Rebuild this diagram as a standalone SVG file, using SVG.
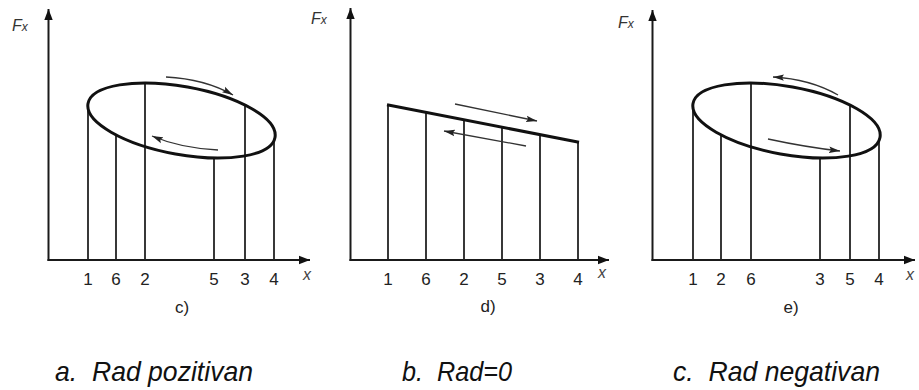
<svg xmlns="http://www.w3.org/2000/svg" width="919" height="390" viewBox="0 0 919 390">
<style>
.ax{stroke:#1a1a1a;stroke-width:2;fill:none}
.vl{stroke:#222;stroke-width:1.8;fill:none}
.el{stroke:#111;stroke-width:3;fill:none}
.ar{stroke:#333;stroke-width:1.3;fill:none}
.num{font-family:"Liberation Sans",Arial,sans-serif;font-size:17px;fill:#222;text-anchor:middle}
.lab{font-family:"Liberation Sans",Arial,sans-serif;font-size:17px;fill:#222;text-anchor:middle}
.xl{font-family:"Liberation Sans",Arial,sans-serif;font-size:16px;font-style:italic;fill:#444}
.F{font-family:"Liberation Sans",Arial,sans-serif;font-size:16px;font-style:italic;fill:#333}
.Fs{font-size:12px}
.cap{font-family:"Liberation Sans",Arial,sans-serif;font-size:28px;font-style:italic;fill:#111;white-space:pre}
</style>
<defs>
<marker id="ah" markerUnits="userSpaceOnUse" markerWidth="12" markerHeight="8" refX="11" refY="4" orient="auto">
<path d="M0,0.8 L11,4 L0,7.2 L2,4 Z" fill="#222"/>
</marker>
<marker id="axh" markerUnits="userSpaceOnUse" markerWidth="12" markerHeight="10" refX="11" refY="5" orient="auto">
<path d="M0,0.8 L11,5 L0,9.2 Z" fill="#111"/>
</marker>
</defs>

<g id="panel-c">
<line class="ax" x1="48.5" y1="261" x2="48.5" y2="9" marker-end="url(#axh)"/>
<line class="ax" x1="47.5" y1="260" x2="310" y2="260" marker-end="url(#axh)"/>
<line class="vl" x1="88" y1="260" x2="88" y2="106"/>
<line class="vl" x1="116" y1="260" x2="116" y2="135"/>
<line class="vl" x1="145" y1="260" x2="145" y2="83"/>
<line class="vl" x1="214" y1="260" x2="214" y2="158"/>
<line class="vl" x1="245" y1="260" x2="245" y2="106"/>
<line class="vl" x1="274" y1="260" x2="274" y2="140"/>
<ellipse class="el" cx="181.5" cy="120.5" rx="95" ry="34" transform="rotate(10.25 181.5 120.5)"/>
<path class="ar" d="M166,77 Q205,79 233,95" marker-end="url(#ah)"/>
<path class="ar" d="M218,150 Q180,148 152,136" marker-end="url(#ah)"/>
<text class="F" x="12" y="31">F<tspan class="Fs">x</tspan></text>
<text class="num" x="88" y="285">1</text>
<text class="num" x="116" y="285">6</text>
<text class="num" x="145" y="285">2</text>
<text class="num" x="214" y="285">5</text>
<text class="num" x="245" y="285">3</text>
<text class="num" x="274" y="285">4</text>
<text class="xl" x="303" y="280">x</text>
<text class="lab" x="182" y="313">c)</text>
</g>

<g id="panel-d">
<line class="ax" x1="350.5" y1="261" x2="350.5" y2="8" marker-end="url(#axh)"/>
<line class="ax" x1="349.5" y1="260" x2="609" y2="260" marker-end="url(#axh)"/>
<line class="vl" x1="388" y1="260" x2="388" y2="105"/>
<line class="vl" x1="426" y1="260" x2="426" y2="112.4"/>
<line class="vl" x1="464" y1="260" x2="464" y2="119.8"/>
<line class="vl" x1="502" y1="260" x2="502" y2="127.2"/>
<line class="vl" x1="540" y1="260" x2="540" y2="134.6"/>
<line class="vl" x1="578" y1="260" x2="578" y2="142"/>
<line class="el" x1="387" y1="104.8" x2="579" y2="142.2"/>
<line class="ar" x1="455" y1="104" x2="537" y2="121" marker-end="url(#ah)"/>
<line class="ar" x1="526" y1="146" x2="444" y2="131" marker-end="url(#ah)"/>
<text class="F" x="311" y="24">F<tspan class="Fs">x</tspan></text>
<text class="num" x="388" y="285">1</text>
<text class="num" x="426" y="285">6</text>
<text class="num" x="464" y="285">2</text>
<text class="num" x="502" y="285">5</text>
<text class="num" x="540" y="285">3</text>
<text class="num" x="578" y="285">4</text>
<text class="xl" x="598" y="278">x</text>
<text class="lab" x="488" y="312">d)</text>
</g>

<g id="panel-e">
<line class="ax" x1="652.5" y1="261" x2="652.5" y2="10" marker-end="url(#axh)"/>
<line class="ax" x1="651.5" y1="260" x2="915" y2="260" marker-end="url(#axh)"/>
<line class="vl" x1="693" y1="260" x2="693" y2="106"/>
<line class="vl" x1="721" y1="260" x2="721" y2="135"/>
<line class="vl" x1="751" y1="260" x2="751" y2="83"/>
<line class="vl" x1="820" y1="260" x2="820" y2="158"/>
<line class="vl" x1="850" y1="260" x2="850" y2="106"/>
<line class="vl" x1="879" y1="260" x2="879" y2="140"/>
<ellipse class="el" cx="786.5" cy="120.5" rx="95" ry="34" transform="rotate(10.25 786.5 120.5)"/>
<path class="ar" d="M838,95 Q810,79 773,77" marker-end="url(#ah)"/>
<path class="ar" d="M768,139 Q805,147 840,151" marker-end="url(#ah)"/>
<text class="F" x="618" y="28">F<tspan class="Fs">x</tspan></text>
<text class="num" x="693" y="285">1</text>
<text class="num" x="721" y="285">2</text>
<text class="num" x="751" y="285">6</text>
<text class="num" x="820" y="285">3</text>
<text class="num" x="850" y="285">5</text>
<text class="num" x="879" y="285">4</text>
<text class="xl" x="906" y="280">x</text>
<text class="lab" x="791" y="313">e)</text>
</g>

<g id="captions">
<text class="cap" x="55" y="381" textLength="198" lengthAdjust="spacingAndGlyphs">a.  Rad pozitivan</text>
<text class="cap" x="402" y="381" textLength="110" lengthAdjust="spacingAndGlyphs">b.  Rad=0</text>
<text class="cap" x="673" y="381" textLength="207" lengthAdjust="spacingAndGlyphs">c.  Rad negativan</text>
</g>
</svg>
